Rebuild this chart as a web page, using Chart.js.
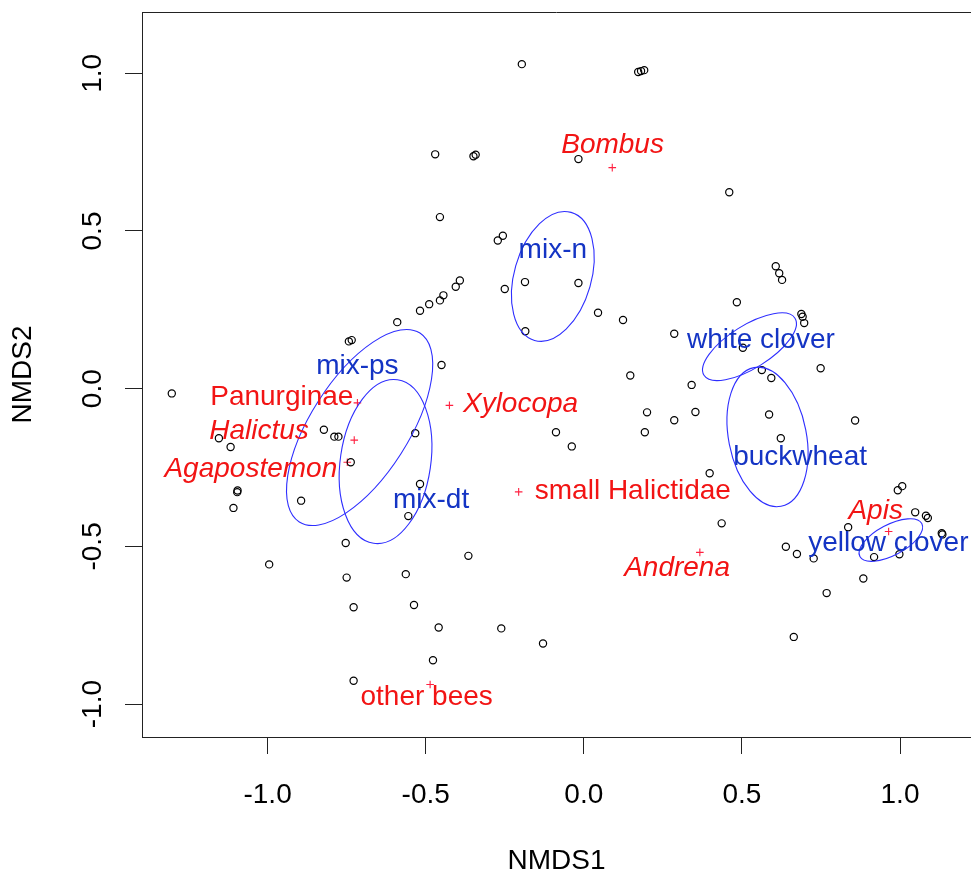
<!DOCTYPE html>
<html>
<head>
<meta charset="utf-8">
<script src="https://cdn.jsdelivr.net/npm/chart.js@4.4.1/dist/chart.umd.min.js"></script>
<style>
  html, body { margin: 0; padding: 0; background: #ffffff; }
  canvas { display: block; }
</style>
</head>
<body>
<canvas id="nmds" width="971" height="878"></canvas>
<script>
// NMDS site scores
const siteX = [
  -1.303, -1.154, -1.117, -1.095, -1.096, -1.108, -0.894, -0.822, -0.789, -0.776,
  -0.737, -0.753, -0.743, -0.734, -0.590, -0.518, -0.489, -0.455, -0.444, -0.405,
  -0.392, -0.450, -0.533, -0.518, -0.555, -0.470, -0.349, -0.342, -0.017, -0.455,
  -0.272, -0.256, -0.186, -0.017, -0.250, -0.185, 0.045, -0.196, 0.172, 0.181,
  0.191, 0.124, 0.286, 0.147, 0.341, 0.200, 0.286, 0.353, 0.193, -0.088,
  -0.038, 0.460, 0.607, 0.618, 0.627, 0.484, 0.688, 0.692, 0.697, 0.503,
  0.563, 0.593, 0.749, 0.586, 0.858, 0.623, 0.398, 0.436, 0.639, 0.674,
  0.727, 0.836, 0.918, 0.998, 0.884, 0.768, 0.664, 0.993, 1.007, 1.048,
  1.082, 1.088, 1.132, 1.134, -0.995, -0.750, -0.728, -0.563, -0.537, -0.459,
  -0.365, -0.261, -0.129, -0.477, -0.728
];
const siteY = [
  -0.015, -0.157, -0.185, -0.323, -0.328, -0.378, -0.355, -0.130, -0.152, -0.152,
  -0.233, -0.489, 0.150, 0.154, 0.211, 0.247, 0.268, 0.280, 0.296, 0.323,
  0.343, 0.075, -0.141, -0.302, -0.404, 0.743, 0.737, 0.742, 0.728, 0.544,
  0.470, 0.485, 0.338, 0.335, 0.316, 0.182, 0.241, 1.029, 1.004, 1.007,
  1.010, 0.218, 0.174, 0.042, 0.012, -0.075, -0.100, -0.074, -0.138, -0.138,
  -0.183, 0.623, 0.388, 0.366, 0.345, 0.274, 0.237, 0.228, 0.208, 0.130,
  0.059, 0.034, 0.065, -0.082, -0.101, -0.157, -0.268, -0.427, -0.501, -0.524,
  -0.538, -0.439, -0.534, -0.525, -0.602, -0.648, -0.787, -0.322, -0.309, -0.392,
  -0.403, -0.410, -0.458, -0.462, -0.557, -0.599, -0.693, -0.588, -0.686, -0.757,
  -0.530, -0.760, -0.808, -0.861, -0.926
];

// Bee taxa scores and their label anchors
const taxa       = ['Bombus', 'Xylocopa', 'Panurginae', 'Halictus', 'Agapostemon', 'small Halictidae', 'Andrena', 'Apis', 'other bees'];
const taxaItalic = [true, true, false, true, true, false, true, true, false];
const taxaX      = [0.090, -0.425, -0.716, -0.726, -0.748, -0.206, 0.367, 0.964, -0.486];
const taxaY      = [0.701, -0.053, -0.045, -0.163, -0.233, -0.327, -0.519, -0.453, -0.938];
const taxaLabelX = [0.091, -0.200, -0.955, -1.027, -1.053, 0.155, 0.295, 0.923, -0.497];
const taxaLabelY = [0.779, -0.040, -0.018, -0.127, -0.248, -0.317, -0.560, -0.380, -0.972];

// Floral treatments: standard-deviation ellipses (centre, semi-axes, rotation in degrees)
const treatments   = ['mix-n', 'white clover', 'mix-ps', 'buckwheat', 'mix-dt', 'yellow clover'];
const ellipseCX    = [-0.098, 0.524, -0.709, 0.581, -0.627, 0.971];
const ellipseCY    = [0.356, 0.133, -0.123, -0.153, -0.231, -0.480];
const ellipseA     = [0.211, 0.170, 0.355, 0.224, 0.262, 0.111];
const ellipseB     = [0.122, 0.068, 0.155, 0.123, 0.143, 0.0485];
const ellipseAngle = [74.1, 32.2, 57.5, 101.0, 81.7, 28.1];
const treatLabelX  = [-0.098, 0.560, -0.716, 0.684, -0.483, 0.963];
const treatLabelY  = [0.447, 0.162, 0.080, -0.211, -0.345, -0.481];

// Axis ticks
const xTicks = [-1.0, -0.5, 0.0, 0.5, 1.0];
const yTicks = [-1.0, -0.5, 0.0, 0.5, 1.0];

const FONT = '"Liberation Sans", Arial, Helvetica, sans-serif';
const FSIZE = 28;
const LABEL_DY = 2.5;          // nudges canvas 'middle' baseline onto the glyph centre
const RED = '#f21414';
const BLUE_TEXT = '#1434c4';
const BLUE_LINE = '#2e2eff';
const AXIS = '#222222';

const overlay = {
  id: 'overlay',
  afterDatasetsDraw(chart) {
    const ctx = chart.ctx;
    const xs = chart.scales.x, ys = chart.scales.y;
    const kx = xs.getPixelForValue(1) - xs.getPixelForValue(0);
    const ky = ys.getPixelForValue(0) - ys.getPixelForValue(1);
    const area = chart.chartArea;

    ctx.save();
    ctx.beginPath();
    ctx.rect(area.left, area.top, area.right - area.left, area.bottom - area.top);
    ctx.clip();

    // treatment ellipses
    ctx.strokeStyle = BLUE_LINE;
    ctx.lineWidth = 1.1;
    for (let i = 0; i < treatments.length; i++) {
      ctx.save();
      ctx.translate(xs.getPixelForValue(ellipseCX[i]), ys.getPixelForValue(ellipseCY[i]));
      ctx.scale(kx, -ky);
      ctx.rotate(ellipseAngle[i] * Math.PI / 180);
      ctx.beginPath();
      ctx.ellipse(0, 0, ellipseA[i], ellipseB[i], 0, 0, 2 * Math.PI);
      ctx.restore();
      ctx.stroke();
    }

    // labels
    ctx.textAlign = 'center';
    ctx.textBaseline = 'middle';
    ctx.fillStyle = RED;
    for (let i = 0; i < taxa.length; i++) {
      ctx.font = (taxaItalic[i] ? 'italic ' : '') + FSIZE + 'px ' + FONT;
      ctx.fillText(taxa[i], xs.getPixelForValue(taxaLabelX[i]), ys.getPixelForValue(taxaLabelY[i]) + LABEL_DY);
    }
    ctx.fillStyle = BLUE_TEXT;
    ctx.font = FSIZE + 'px ' + FONT;
    for (let i = 0; i < treatments.length; i++) {
      ctx.fillText(treatments[i], xs.getPixelForValue(treatLabelX[i]), ys.getPixelForValue(treatLabelY[i]) + LABEL_DY);
    }
    ctx.restore();

    // top edge of the plot frame
    ctx.save();
    ctx.strokeStyle = AXIS;
    ctx.lineWidth = 1;
    ctx.beginPath();
    ctx.moveTo(area.left, Math.round(area.top) + 0.5);
    ctx.lineTo(area.right, Math.round(area.top) + 0.5);
    ctx.stroke();
    ctx.restore();
  }
};

const fontSpec = { family: FONT, size: FSIZE };

new Chart(document.getElementById('nmds'), {
  type: 'scatter',
  data: {
    datasets: [
      {
        label: 'sites',
        data: siteX.map((x, i) => ({ x: x, y: siteY[i] })),
        pointStyle: 'circle',
        pointRadius: 3.6,
        pointBorderWidth: 1.2,
        borderColor: '#000000',
        backgroundColor: 'rgba(0,0,0,0)',
        pointHoverRadius: 3.6
      },
      {
        label: 'taxa',
        data: taxaX.map((x, i) => ({ x: x, y: taxaY[i] })),
        pointStyle: 'cross',
        pointRadius: 3.8,
        pointBorderWidth: 1.1,
        borderColor: '#ff2040',
        backgroundColor: '#ff2040',
        pointHoverRadius: 3.8
      }
    ]
  },
  options: {
    responsive: false,
    animation: false,
    events: [],
    layout: { autoPadding: false, padding: { top: 12, right: 0, bottom: 0, left: 0 } },
    plugins: { legend: { display: false }, tooltip: { enabled: false } },
    scales: {
      x: {
        type: 'linear',
        position: 'bottom',
        min: -1.3972,
        max: 1.2245,
        afterBuildTicks: s => { s.ticks = xTicks.map(v => ({ value: v })); },
        afterFit: s => { s.height = 141; s.paddingLeft = 0; s.paddingRight = 0; },
        grid: { drawOnChartArea: false, drawTicks: true, tickLength: 17, color: AXIS, lineWidth: 1 },
        border: { display: true, color: AXIS, width: 1 },
        ticks: {
          font: fontSpec, color: '#000000', padding: 24,
          minRotation: 0, maxRotation: 0, autoSkip: false,
          callback: v => Number(v).toFixed(1)
        },
        title: { display: true, text: 'NMDS1', font: fontSpec, color: '#000000', padding: { top: 0, bottom: 0 } }
      },
      y: {
        type: 'linear',
        position: 'left',
        min: -1.1043,
        max: 1.1943,
        afterBuildTicks: s => { s.ticks = yTicks.map(v => ({ value: v })); },
        afterFit: s => { s.width = 142; s.paddingTop = 0; s.paddingBottom = 0; },
        grid: { drawOnChartArea: false, drawTicks: true, tickLength: 17, color: AXIS, lineWidth: 1 },
        border: { display: true, color: AXIS, width: 1 },
        ticks: {
          font: fontSpec, color: '#000000', padding: 7.6,
          minRotation: 90, maxRotation: 90, crossAlign: 'center', autoSkip: false,
          callback: v => Number(v).toFixed(1)
        },
        title: { display: true, text: 'NMDS2', font: fontSpec, color: '#000000', padding: { top: 6, bottom: 0 } }
      }
    }
  },
  plugins: [overlay]
});
</script>
</body>
</html>
